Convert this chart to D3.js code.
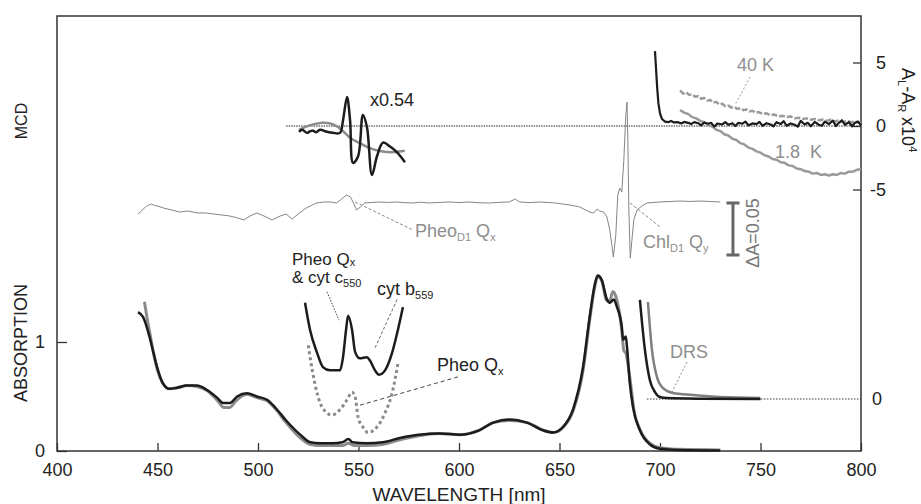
<!DOCTYPE html>
<html>
<head>
<meta charset="utf-8">
<script src="https://cdn.jsdelivr.net/npm/d3@7"></script>
<style>
body { margin: 0; background: #fff; }
svg text { font-family: "Liberation Sans", Arial, sans-serif; white-space: pre; }
</style>
</head>
<body>
<svg id="chart" width="921" height="504"></svg>
<script>
// ---- data (wavelength nm, value) ----
// absorption, black = sample, gray = reference
const absBlack = [[440.3,1.275],[442.8,1.23],[446,1.05],[448,0.9],[449.8,0.77],[452.7,0.62],[456,0.57],[459.7,0.58],[464.6,0.6],[469.6,0.6],[474.6,0.56],[479.6,0.49],[482.6,0.44],[486,0.44],[489.6,0.5],[494.5,0.53],[499.5,0.5],[504.5,0.47],[509,0.39],[514,0.28],[521,0.15],[526,0.08],[531,0.07],[537,0.07],[542,0.08],[545,0.11],[547,0.08],[554,0.07],[562,0.08],[570.6,0.12],[580,0.15],[590.5,0.16],[600.5,0.15],[610,0.19],[617,0.26],[625,0.29],[633.8,0.26],[641.8,0.19],[646.8,0.17],[651.7,0.22],[656.7,0.38],[661.7,0.77],[665,1.23],[667.7,1.54],[669,1.61],[671,1.57],[673.6,1.39],[675,1.36],[677,1.39],[678.6,1.32],[681,1.14],[681.6,1.02],[683,1.05],[683.6,0.95],[685,0.62],[686.6,0.4],[690,0.19],[695,0.06],[700,0.02],[708.5,0.01],[730,0.005]];
const absGray = [[443.5,1.37],[445,1.2],[446.5,1.05],[448,0.9],[450,0.74],[452.7,0.62],[456,0.57],[460,0.58],[465,0.6],[470,0.59],[475,0.55],[480,0.46],[483,0.4],[486,0.4],[489,0.46],[494.5,0.52],[499.5,0.49],[504.5,0.46],[509,0.38],[514,0.26],[521,0.12],[526,0.06],[531,0.05],[537,0.05],[542,0.05],[545,0.07],[548,0.05],[554,0.05],[562,0.06],[570,0.1],[580,0.14],[590,0.16],[600,0.15],[610,0.19],[617,0.26],[625,0.28],[634,0.26],[642,0.19],[647,0.17],[652,0.22],[657,0.38],[662,0.77],[665,1.2],[667.7,1.52],[669,1.6],[671,1.56],[673.6,1.38],[675,1.38],[676.5,1.46],[678,1.42],[679.5,1.3],[681,1.1],[682,0.92],[683,0.9],[684,0.8],[685.5,0.6],[687,0.38],[690,0.2],[695,0.07],[700,0.03],[710,0.015],[730,0.01]];

// Pheo Qx region, expanded (absorption units)
const qxSolid = [[523.4,1.36],[525.9,1.11],[529.4,0.9],[532.3,0.77],[535.8,0.74],[540.8,0.74],[542.3,0.86],[543.8,1.11],[544.8,1.24],[546.8,1.11],[548.3,0.91],[550.7,0.85],[554.2,0.86],[555.7,0.83],[558.2,0.74],[560.2,0.7],[563.2,0.74],[566.7,0.9],[569.2,1.08],[572.1,1.32]];
const qxDotted = [[525,0.97],[527,0.74],[529.4,0.53],[532.3,0.39],[536.8,0.33],[540.8,0.38],[544.3,0.47],[546.8,0.54],[548.3,0.5],[549.8,0.31],[552.2,0.22],[554.7,0.17],[559.2,0.22],[563.2,0.35],[566.7,0.53],[569.7,0.81]];

// DRS inset (own zero)
const drsBlack = [[690,0.91],[692.5,0.45],[695,0.17],[697.5,0.064],[700,0.018],[703.5,0.009],[720,0.003],[750,0]];
const drsGray = [[694,0.89],[696,0.45],[698.5,0.2],[701.5,0.1],[706.5,0.055],[716.4,0.037],[730,0.018],[749.8,0.009]];

// MCD trace (units 1e-3 dA)
const mcdTrace = [[440.3,-10.6],[442,-7.7],[444,-3.8],[445.5,-2.2],[447,-1.0],[448.5,-2.4],[450,-2.9],[453,-4.8],[457,-6.7],[461,-8.7],[465,-7.7],[470,-9.6],[474,-9.6],[478,-10.6],[482,-11.5],[486,-12.5],[490,-14.4],[493,-16.3],[496,-12.5],[499.5,-9.6],[503,-12.5],[507,-16.3],[511,-12.5],[514,-10.6],[517,-15.4],[520,-10.6],[524,-4.8],[529,0],[533,1],[536,1],[539,0],[541,2.9],[544,7.7],[546,5.8],[547.5,0],[549,-6.7],[551,-3.8],[553,0],[560,1],[565,0.5],[569,1],[573,0.3],[577,0],[581,0.8],[585,0],[590,0.5],[595,1],[600,0.4],[605,1],[610,0.2],[615,0],[620,0.6],[625,1],[628,3.8],[630,1],[635,0.4],[640,1],[648,0],[655,-1.9],[660,-3.8],[663,-6.7],[665,-8.7],[667,-9.6],[668.7,-5.8],[670,-7.7],[672,-8.7],[673.6,-13.5],[675,-26],[676,-40],[676.8,-52],[678,-31],[679,7.7],[680,14.4],[681,10.6],[682,41],[683,85],[683.6,97],[684,61],[684.5,-6.7],[685.2,-53],[686,-36],[687,-16],[688.6,-6.7],[691,-2.9],[693.5,0],[700,1],[705,1.4],[710,1.9],[715,1.5],[720,1.9],[725,1.4],[730,1]];

// MCD insets (right axis, A_L-A_R x10^4)
const mcdQxBlack = [[520.4,-0.46],[522,-0.3],[524.4,-0.54],[526,-0.4],[527.4,-0.38],[529,-0.5],[530.8,-0.3],[534.3,-0.46],[537.3,-0.54],[540.8,-0.54],[542.3,0.46],[544.3,2.28],[545.8,0.46],[547.3,-2.9],[549.8,-2.38],[552.2,0.87],[554.2,-0.08],[556.7,-3.86],[559.2,-2.38],[562.2,-1.31],[565.7,-1.62],[569.2,-2.08],[573.1,-2.85]];
const mcdQxGray = [[520.4,-0.3],[524,-0.05],[528,0.15],[532,0.26],[536,0.2],[540,-0.1],[543,-0.5],[546,-0.95],[550,-1.3],[555,-1.7],[560,-1.95],[564,-2.05],[568,-2.05],[573,-1.95]];
const mcdNirBlack = [[697.5,5.9],[698,4.6],[698.6,3.0],[699.2,1.8],[700,1.0],[701,0.55],[702.5,0.35],[704,0.3],[705.5,0.4],[707,0.28],[709,0.3],[710.5,0.2],[712,0.32],[714,0.25],[715.5,0.15],[717,0.3],[719,0.22],[720.5,0.05],[722,0.28],[724,0.18],[725.5,0.25],[727,-0.05],[728.5,0.2],[731,0.12],[732.5,0.3],[734,0.1],[736,0.22],[737.5,0.0],[739,0.25],[741,0.18],[742.5,0.35],[744,0.05],[746,0.2],[748,0.15],[749.5,0.32],[751,0.02],[753,0.22],[755,0.12],[756.5,-0.02],[758,0.3],[760,0.15],[761.5,0.38],[763,0.02],[765,0.2],[767,0.1],[768.5,-0.05],[770,0.4],[772,0.12],[773.5,0.25],[775,-0.02],[777,0.32],[779,0.1],[780.5,0.02],[782,0.35],[784,0.15],[786,0.42],[787.5,0.0],[789,0.25],[790.5,0.45],[792,0.1],[794,0.3],[795.5,-0.02],[797,0.25],[798.5,0.35],[800,0.05]];
const mcd40K = [[710,2.8],[711.5,2.55],[713,2.65],[714.5,2.45],[716,2.5],[717.5,2.3],[719,2.35],[720.5,2.15],[722,2.2],[723.5,2.0],[725,2.05],[726.5,1.85],[728,1.9],[729.5,1.7],[731,1.75],[732.5,1.55],[734,1.6],[735.5,1.45],[737,1.5],[738.5,1.35],[740,1.4],[741.5,1.25],[743,1.3],[744.5,1.15],[746,1.2],[747.5,1.05],[749,1.1],[751,0.95],[753,1.0],[755,0.85],[757,0.9],[759,0.75],[761,0.8],[763,0.7],[765,0.75],[767,0.6],[769,0.65],[771,0.55],[773,0.6],[775,0.5],[777,0.55],[779,0.45],[781,0.5],[783,0.4],[785,0.5],[787,0.35],[789,0.45],[791,0.3],[793,0.4],[795,0.3],[797,0.35],[799,0.25],[800,0.3]];
const mcd18K = [[710,1.25],[712,1.05],[714,0.95],[716,0.7],[718,0.6],[720,0.4],[722,0.3],[724,0.05],[726,-0.05],[728,-0.3],[730,-0.4],[732,-0.65],[734,-0.75],[736,-1.0],[738,-1.1],[740,-1.35],[742,-1.45],[744,-1.7],[746,-1.8],[748,-2.0],[750,-2.1],[752,-2.3],[754,-2.4],[756,-2.6],[758,-2.65],[760,-2.85],[762,-2.9],[764,-3.1],[766,-3.15],[768,-3.35],[770,-3.4],[772,-3.55],[774,-3.6],[776,-3.75],[778,-3.7],[780,-3.85],[782,-3.8],[784,-3.9],[786,-3.8],[788,-3.85],[790,-3.7],[792,-3.75],[794,-3.6],[796,-3.6],[798,-3.45],[800,-3.4]];

const xTicks = [400, 450, 500, 550, 600, 650, 700, 750, 800];
const absTicks = [0, 1];
const mcdTicks = [-5, 0, 5];

// ---- scales ----
const svg = d3.select('#chart');
const x = d3.scaleLinear().domain([400, 800]).range([57, 861]);
const yAbs = d3.scaleLinear().domain([0, 1]).range([451, 342]);
const yDrs = d3.scaleLinear().domain([0, 1]).range([399, 290]);
const yR = d3.scaleLinear().domain([-5, 5]).range([189.5, 62.5]);
const yMcd = d3.scaleLinear().domain([0, 50]).range([203, 151]);
const frameTop = 16;
const plain = d => String(d);

const BLACK = '#1c1c1c', GRAY = '#8b8b8b', LGRAY = '#8e8e8e';

// frame
svg.append('rect')
    .attr('x', x(400)).attr('y', frameTop)
    .attr('width', x(800) - x(400)).attr('height', yAbs(0) - frameTop)
    .attr('fill', 'none').attr('stroke', '#333').attr('stroke-width', 1.5);

// axes
const xAxis = svg.append('g')
    .attr('transform', `translate(0, ${yAbs(0)})`)
    .call(d3.axisBottom(x).tickValues(xTicks).tickFormat(plain).tickSizeInner(-8).tickSizeOuter(0).tickPadding(12));
const leftAxis = svg.append('g')
    .attr('transform', `translate(${x(400)}, 0)`)
    .call(d3.axisLeft(yAbs).tickValues(absTicks).tickFormat(plain).tickSizeInner(-10).tickSizeOuter(0).tickPadding(12));
const rightAxis = svg.append('g')
    .attr('transform', `translate(${x(800)}, 0)`)
    .call(d3.axisRight(yR).tickValues(mcdTicks).tickFormat(plain).tickSizeInner(-8).tickSizeOuter(0).tickPadding(25));
const drsAxis = svg.append('g')
    .attr('transform', `translate(${x(800)}, 0)`)
    .call(d3.axisRight(yDrs).tickValues([0]).tickFormat(plain).tickSizeInner(0).tickSizeOuter(0).tickPadding(21));
[xAxis, leftAxis, rightAxis, drsAxis].forEach(a => {
    a.select('.domain').remove();
    a.selectAll('line').attr('stroke', '#333').attr('stroke-width', 1.3);
    a.selectAll('text').attr('font-size', 18).attr('fill', '#222')
        .attr('font-family', '"Liberation Sans", Arial, sans-serif');
});
rightAxis.selectAll('text').attr('text-anchor', 'end');
drsAxis.selectAll('text').attr('text-anchor', 'end');

// zero reference lines (dotted)
svg.append('line')
    .attr('x1', x(514)).attr('x2', x(800)).attr('y1', yR(0)).attr('y2', yR(0))
    .attr('stroke', '#222').attr('stroke-width', 1).attr('stroke-dasharray', '1.5,1');
svg.append('line')
    .attr('x1', x(693.5)).attr('x2', x(800)).attr('y1', yDrs(0)).attr('y2', yDrs(0))
    .attr('stroke', '#333').attr('stroke-width', 1).attr('stroke-dasharray', '1.5,1.5');

// ---- curves ----
function draw(data, yScale, color, width, curve, dash) {
    const line = d3.line()
        .x(d => x(d[0]))
        .y(d => yScale(d[1]))
        .curve(curve || d3.curveLinear);
    svg.append('path')
        .datum(data)
        .attr('d', line)
        .attr('fill', 'none')
        .attr('stroke', color)
        .attr('stroke-width', width)
        .attr('stroke-linejoin', 'round')
        .attr('stroke-dasharray', dash || null);
}

// MCD trace
draw(mcdTrace, yMcd, '#858585', 1, d3.curveLinear);

// MCD insets
draw(mcdQxGray, yR, GRAY, 2.5, d3.curveCatmullRom);
draw(mcdQxBlack, yR, BLACK, 2.5, d3.curveCatmullRom);
draw(mcd18K, yR, '#9a9a9a', 2.5, d3.curveLinear);
draw(mcd40K, yR, '#9a9a9a', 2.5, d3.curveLinear, '6,2');
draw(mcdNirBlack, yR, BLACK, 2.2, d3.curveLinear);

// absorption
draw(absGray, yAbs, GRAY, 3, d3.curveMonotoneX);
draw(absBlack, yAbs, BLACK, 2.5, d3.curveMonotoneX);
draw(qxDotted, yAbs, '#8a8a8a', 3, d3.curveMonotoneX, '3,3');
draw(qxSolid, yAbs, BLACK, 2.5, d3.curveMonotoneX);
draw(drsGray, yDrs, '#7f7f7f', 2.5, d3.curveMonotoneX);
draw(drsBlack, yDrs, BLACK, 2.5, d3.curveMonotoneX);

// scale bar dA = 0.05
const barX = x(736.3);
svg.append('path')
    .attr('d', `M${barX - 6.5},${yMcd(0)}H${barX + 6.5}M${barX},${yMcd(0)}V${yMcd(-50)}M${barX - 6.5},${yMcd(-50)}H${barX + 6.5}`)
    .attr('stroke', '#666').attr('stroke-width', 3).attr('fill', 'none');

// ---- leader lines ----
function leader(a, ya, b, yb, color, dash) {
    svg.append('line')
        .attr('x1', x(a[0])).attr('y1', ya(a[1]))
        .attr('x2', x(b[0])).attr('y2', yb(b[1]))
        .attr('stroke', color).attr('stroke-width', 1)
        .attr('stroke-dasharray', dash);
}
leader([548.3, 1], yMcd, [577.1, -26], yMcd, '#888', '3,2');
leader([685.1, 0], yMcd, [700, -23], yMcd, '#888', '3,2');
leader([744.8, 3.86], yR, [737.3, 1.65], yR, '#999', '2,2');
leader([713.4, 0.34], yDrs, [706, 0.064], yDrs, '#888', '2,2');
leader([534.3, 1.46], yAbs, [540.3, 1.2], yAbs, '#444', '1.5,1.5');
leader([569.2, 1.39], yAbs, [558.2, 0.945], yAbs, '#666', '3,2');
leader([599.5, 0.68], yAbs, [550.7, 0.42], yAbs, '#444', '4,3');

// ---- text ----
function rich(px, py, parts, opts) {
    const t = svg.append('text')
        .attr('x', px).attr('y', py)
        .attr('font-size', opts.size || 18)
        .attr('fill', opts.color || '#222')
        .attr('text-anchor', opts.anchor || 'start');
    if (opts.transform) t.attr('transform', opts.transform).attr('x', 0).attr('y', 0);
    let shift = 0;
    parts.forEach(([s, kind]) => {
        const target = kind === 'sub' ? (opts.sub || 4) : kind === 'sup' ? -7 : 0;
        t.append('tspan')
            .attr('dy', target - shift)
            .attr('font-size', kind ? 11 : null)
            .text(s);
        shift = target;
    });
    return t;
}

rich(370, 106, [['x0.54']], {});
rich(737, 71, [['40 K']], { color: LGRAY });
rich(775, 158, [['1.8  K']], { color: LGRAY });
rich(415, 237, [['Pheo'], ['D1', 'sub'], [' Q'], ['x', 'sub']], { color: LGRAY });
rich(643, 248, [['Chl'], ['D1', 'sub'], [' Q'], ['y', 'sub']], { color: LGRAY });
rich(0, 0, [['\u0394A=0.05']], { color: '#777', anchor: 'middle', transform: 'translate(759,233) rotate(-90)' });
rich(292, 265, [['Pheo Q'], ['x', 'sub']], { sub: 1, size: 17 });
rich(292, 283, [['& cyt c'], ['550', 'sub']], { size: 17 });
rich(377, 295, [['cyt b'], ['559', 'sub']], {});
rich(437, 371, [['Pheo Q'], ['x', 'sub']], {});
rich(670, 358, [['DRS']], { color: LGRAY });

// axis titles
svg.append('text')
    .attr('transform', 'translate(27,121) rotate(-90)')
    .attr('text-anchor', 'middle').attr('font-size', 16).attr('fill', '#222')
    .text('MCD');
svg.append('text')
    .attr('transform', 'translate(27,343) rotate(-90)')
    .attr('text-anchor', 'middle').attr('font-size', 18).attr('fill', '#222')
    .text('ABSORPTION');
svg.append('text')
    .attr('x', x(600)).attr('y', 501)
    .attr('text-anchor', 'middle').attr('font-size', 19).attr('fill', '#222')
    .text('WAVELENGTH [nm]');
rich(0, 0, [['A'], ['L', 'sub'], ['-A'], ['R', 'sub'], [' x10'], ['4', 'sup']],
    { transform: 'translate(902,68) rotate(90)' });
</script>
</body>
</html>
